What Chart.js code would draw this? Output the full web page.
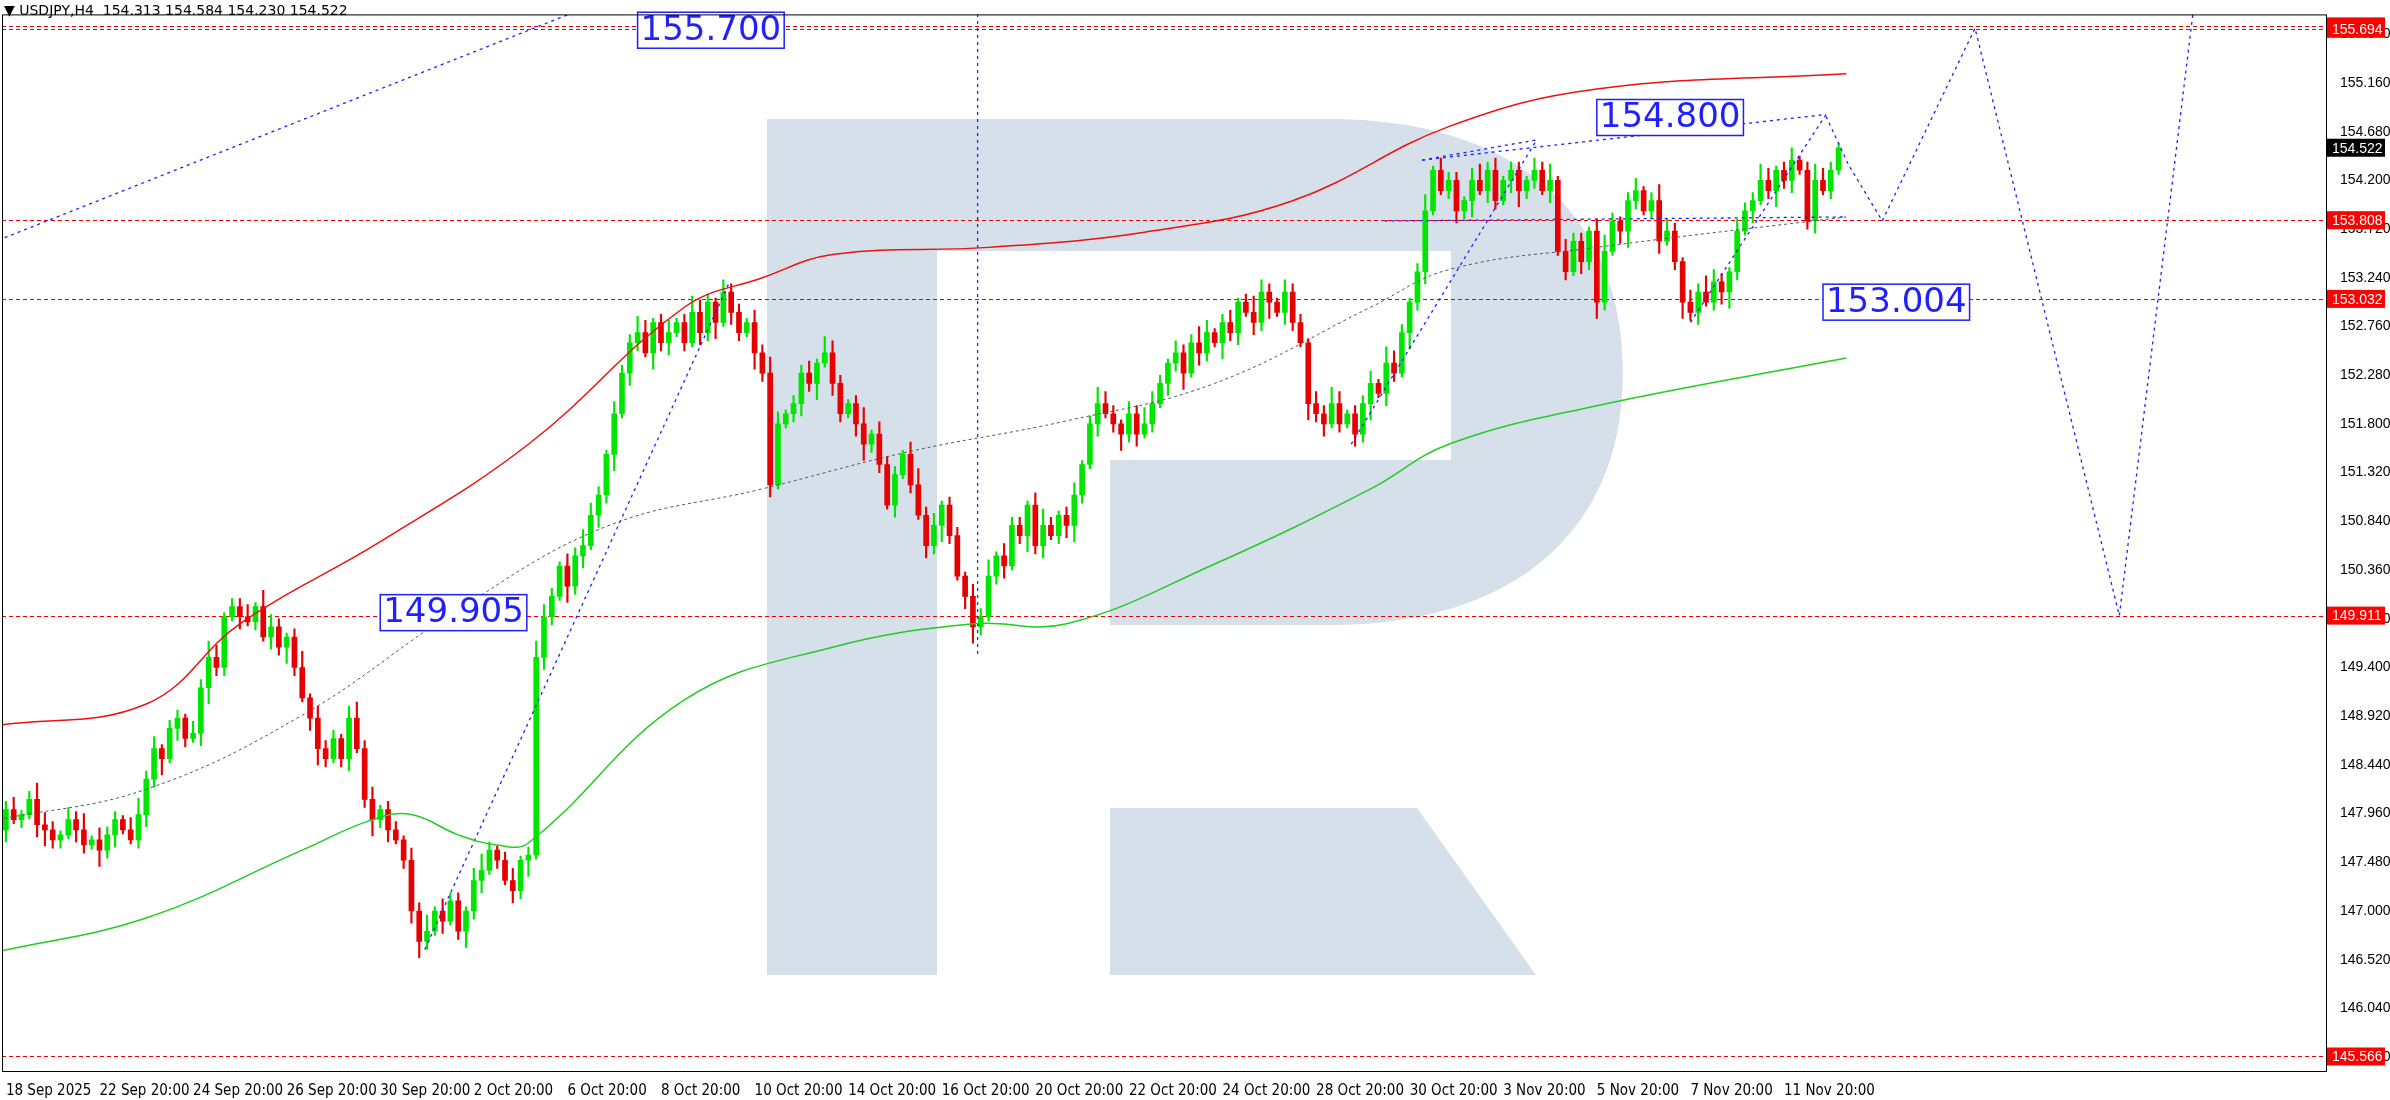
<!DOCTYPE html>
<html>
<head>
<meta charset="utf-8">
<script src="https://cdn.jsdelivr.net/npm/chart.js@4.4.1/dist/chart.umd.min.js"></script>
<style>
  html, body { margin: 0; padding: 0; background: #fff; }
  #wrap { width: 2390px; height: 1100px; position: relative; }
  #title { position: absolute; left: 4px; top: 2px; font: 14px "DejaVu Sans", sans-serif; color: #000; }
</style>
</head>
<body>
<div id="wrap">
  <canvas id="chart" width="2390" height="1100"></canvas>
  <div id="title">&#9660; USDJPY,H4 &nbsp;154.313 154.584 154.230 154.522</div>
</div>
<script>
// H4 closes, one per bar
const closes = [
  148.0,147.9,147.95,148.1,147.85,147.8,147.7,147.75,147.9,147.8,147.65,147.7,147.6,147.75,147.9,147.8,147.7,147.95,
  148.3,148.6,148.5,148.8,148.9,148.7,148.75,149.2,149.5,149.4,149.9,150.0,
  149.9,149.85,150.0,149.7,149.8,149.6,149.7,149.4,149.1,148.9,
  148.6,148.5,148.7,148.5,148.9,148.6,148.1,147.9,148.0,147.8,147.7,147.5,147.0,146.7,
  146.8,147.0,146.9,147.1,146.8,147.0,147.3,147.4,147.6,147.5,147.3,147.2,147.5,147.55,
  149.5,149.9,150.1,150.4,150.2,150.5,150.6,150.9,151.1,151.5,151.9,152.3,152.6,
  152.7,152.5,152.8,152.6,152.7,152.8,152.6,152.9,152.7,153.0,152.8,153.1,152.9,152.7,152.8,152.5,152.3,
  151.2,151.8,151.9,152.0,152.3,152.2,152.4,152.5,152.2,151.9,152.0,151.8,151.6,151.7,151.4,
  151.0,151.3,151.5,151.2,150.9,150.6,150.8,151.0,150.7,150.3,150.1,149.8,149.9,
  150.3,150.5,150.4,150.8,150.7,151.0,150.6,150.8,150.7,150.9,150.8,151.1,151.4,
  151.8,152.0,151.9,151.8,151.7,151.9,151.7,151.8,152.0,152.2,152.4,152.5,152.3,152.6,152.5,152.7,152.6,152.8,152.7,153.0,152.9,152.8,
  153.1,153.0,152.9,153.1,152.8,152.6,152.0,151.9,151.8,152.0,151.8,151.9,
  151.7,152.0,152.2,152.1,152.4,152.3,152.7,153.0,153.3,
  153.9,154.3,154.1,154.2,153.9,154.0,154.2,154.1,154.3,154.0,154.2,154.3,154.1,154.2,
  154.3,154.1,154.2,153.5,153.3,153.6,153.4,153.7,153.0,153.5,153.8,153.7,
  154.0,154.1,153.9,154.0,153.6,153.7,153.4,153.0,152.9,153.1,153.0,153.2,153.1,153.3,
  153.7,153.9,154.0,154.2,154.1,154.3,154.2,154.4,154.3,153.8,154.2,154.1,154.3,154.522
];
const firstOpen = 147.8;
// wick sizes per bar, in units of 0.04
const upWicks   = "231243213241322134231221324312231432124132213423122132413221342123124321324321322431231243213221324312231432124132213423122132413221342123124321324321322431231243213221324312231432124132213423122132413221342123124321324321322431231243212312432132";
const downWicks = "312134221321423112324132134221312132421342123124231234213124231213241321423132413214231213241321423112324132134221312132421342123124231234213124231213241321423132413214231213241321423112324132134221312132421342123124231234213124231231213421321";

const tickLabels = ["18 Sep 2025","22 Sep 20:00","24 Sep 20:00","26 Sep 20:00","30 Sep 20:00","2 Oct 20:00",
  "6 Oct 20:00","8 Oct 20:00","10 Oct 20:00","14 Oct 20:00","16 Oct 20:00","20 Oct 20:00","22 Oct 20:00",
  "24 Oct 20:00","28 Oct 20:00","30 Oct 20:00","3 Nov 20:00","5 Nov 20:00","7 Nov 20:00","11 Nov 20:00"];
const tickStep = 12;

// bands: [bar index, price]
const redBand   = [[-1,148.83],[18,149.04],[30,149.83],[48,150.64],[67,151.6],[87,152.95],[97,153.24],[106,153.47],[126,153.54],[146,153.69],[165,154.0],[185,154.73],[204,155.1],[236,155.25]];
const midBand   = [[-1,147.9],[18,148.2],[38,148.93],[58,149.97],[77,150.79],[97,151.16],[116,151.53],[136,151.83],[155,152.2],[175,152.95],[185,153.32],[204,153.54],[236,153.84]];
const greenBand = [[-1,146.6],[18,146.93],[38,147.6],[47,147.9],[52,147.95],[58,147.75],[63,147.65],[67,147.67],[87,149.08],[106,149.6],[124,149.83],[136,149.83],[155,150.42],[175,151.16],[185,151.6],[204,151.98],[236,152.45]];

// blue dotted analysis lines
const trendLines = [
  [[-1,153.61],[72.3,155.84]],
  [[53.7,146.62],[92.8,153.2]],
  [[124.6,155.84],[124.6,149.53]],
  [[172.5,151.6],[196.3,154.6]],
  [[181.6,154.4],[196.3,154.6]],
  [[176.8,153.8],[236,153.84]],
  [[181.6,154.4],[233.4,154.85]],
  [[216,152.8],[233.4,154.85]]
];
const forecast = [[233.4,154.83],[236.3,154.35],[240.6,153.8],[252.5,155.7],[271,149.91],[281,156.2]];

const levelLines = [155.718, 155.694, 153.808, 153.032, 149.911, 145.566];
const lastPrice = 154.522;
const boxLabels = [
  {text:"155.700", x:81, y:155.68},
  {text:"154.800", x:204, y:154.82},
  {text:"149.905", x:48, y:149.94},
  {text:"153.004", x:233, y:153.0}
];

const opens = closes.map((c, i) => i === 0 ? firstOpen : closes[i - 1]);
const bodies = closes.map((c, i) => ({x: i, y: [Math.min(opens[i], c), Math.max(opens[i], c)]}));
const wicks = closes.map((c, i) => ({x: i, y: [
  Math.min(opens[i], c) - (+downWicks[i] || 2) * 0.04,
  Math.max(opens[i], c) + (+upWicks[i] || 2) * 0.04]}));
const candleColor = closes.map((c, i) => c >= opens[i] ? '#00e600' : '#e60000');
const pts = arr => arr.map(p => ({x: p[0], y: p[1]}));

const blue = '#1f1fff';
const lineDs = (data, color, dash, w) => ({
  type: 'line', data: pts(data), borderColor: color, borderWidth: w, borderDash: dash,
  pointRadius: 0, tension: 0.4, fill: false, order: 0
});

const datasets = [
  lineDs(redBand, '#ee1111', [], 1.5),
  lineDs(midBand, '#555', [3, 3], 1),
  lineDs(greenBand, '#22cc22', [], 1.5),
  {type: 'bar', data: wicks, backgroundColor: candleColor, barThickness: 1.5, order: 2, grouped: false},
  {type: 'bar', data: bodies, backgroundColor: candleColor, barThickness: 5, minBarLength: 1.5, order: 1, grouped: false}
];
trendLines.forEach(t => datasets.push({...lineDs(t, blue, [3, 4], 1.3), tension: 0}));
datasets.push({...lineDs(forecast, blue, [3, 4], 1.3), tension: 0});

const decor = {
  id: 'decor',
  beforeDatasetsDraw(chart) {
    const {ctx, chartArea: a} = chart;
    ctx.save();
    ctx.beginPath();
    ctx.rect(a.left, a.top, a.right - a.left, a.bottom - a.top);
    ctx.clip();
    // watermark logo
    ctx.fillStyle = '#d6e0eb';
    ctx.fillRect(767, 119, 170, 856);
    ctx.beginPath();
    ctx.moveTo(937, 119);
    ctx.lineTo(1330, 119);
    ctx.bezierCurveTo(1510, 119, 1623, 210, 1623, 372);
    ctx.bezierCurveTo(1623, 535, 1510, 625, 1330, 625);
    ctx.lineTo(1110, 625);
    ctx.lineTo(1110, 460);
    ctx.lineTo(1451, 460);
    ctx.lineTo(1451, 251);
    ctx.lineTo(937, 251);
    ctx.closePath();
    ctx.fill();
    ctx.beginPath();
    ctx.moveTo(1110, 808);
    ctx.lineTo(1417, 808);
    ctx.lineTo(1536, 975);
    ctx.lineTo(1110, 975);
    ctx.closePath();
    ctx.fill();
    // level lines
    const y = chart.scales.y;
    ctx.strokeStyle = '#ee0000';
    ctx.lineWidth = 1.2;
    ctx.setLineDash([4, 3]);
    levelLines.forEach(v => {
      const py = Math.round(y.getPixelForValue(v)) + 0.5;
      ctx.beginPath(); ctx.moveTo(a.left, py); ctx.lineTo(a.right, py); ctx.stroke();
    });
    ctx.restore();
  },
  afterDraw(chart) {
    const {ctx, chartArea: a, scales: {x, y}} = chart;
    ctx.save();
    ctx.font = '34px "DejaVu Sans", sans-serif';
    ctx.textBaseline = 'middle';
    boxLabels.forEach(b => {
      const px = x.getPixelForValue(b.x), py = y.getPixelForValue(b.y);
      const w = ctx.measureText(b.text).width + 6;
      ctx.fillStyle = '#fff';
      ctx.fillRect(px, py - 18, w, 36);
      ctx.strokeStyle = blue; ctx.lineWidth = 1.5;
      ctx.strokeRect(px, py - 18, w, 36);
      ctx.fillStyle = blue;
      ctx.fillText(b.text, px + 3, py + 1);
    });
    // right-side price tags
    ctx.font = '14px "Liberation Sans", sans-serif';
    const tag = (v, bg) => {
      const py = y.getPixelForValue(v);
      ctx.fillStyle = bg;
      ctx.fillRect(a.right + 1, py - 9, 58, 18);
      ctx.fillStyle = '#fff';
      ctx.fillText(v.toFixed(3), a.right + 6, py + 1);
    };
    levelLines.forEach(v => tag(v, '#ff0000'));
    tag(lastPrice, '#000');
    // frame
    ctx.strokeStyle = '#000'; ctx.lineWidth = 1;
    ctx.strokeRect(a.left + 0.5, a.top + 0.5, a.right - a.left, a.bottom - a.top);
    ctx.restore();
  }
};

new Chart(document.getElementById('chart'), {
  data: {datasets},
  options: {
    responsive: false,
    animation: false,
    layout: {padding: {left: 2, top: 8, right: 0, bottom: 0}},
    plugins: {legend: {display: false}, tooltip: {enabled: false}},
    scales: {
      x: {
        type: 'linear', min: -0.5, max: 297.5, offset: false,
        grid: {display: false, drawTicks: true},
        border: {display: false},
        afterBuildTicks: s => { s.ticks = tickLabels.map((t, i) => ({value: i * tickStep})); },
        afterFit: s => { s.height = 29; },
        ticks: {
          autoSkip: false, maxRotation: 0, align: 'start', color: '#000',
          font: {family: '"Liberation Sans Narrow", "DejaVu Sans Condensed", sans-serif', size: 15},
          callback: (v) => tickLabels[Math.round(v / tickStep)] || ''
        }
      },
      y: {
        position: 'right', min: 145.423, max: 155.836,
        grid: {display: false},
        border: {display: false},
        afterBuildTicks: s => { s.ticks = []; for (let k = 0; k <= 21; k++) s.ticks.push({value: 145.56 + k * 0.48}); },
        afterFit: s => { s.width = 64; },
        ticks: {color: '#000', padding: 6, font: {family: '"Liberation Sans", sans-serif', size: 14}, callback: v => v.toFixed(3)}
      }
    }
  },
  plugins: [decor]
});
</script>
</body>
</html>
